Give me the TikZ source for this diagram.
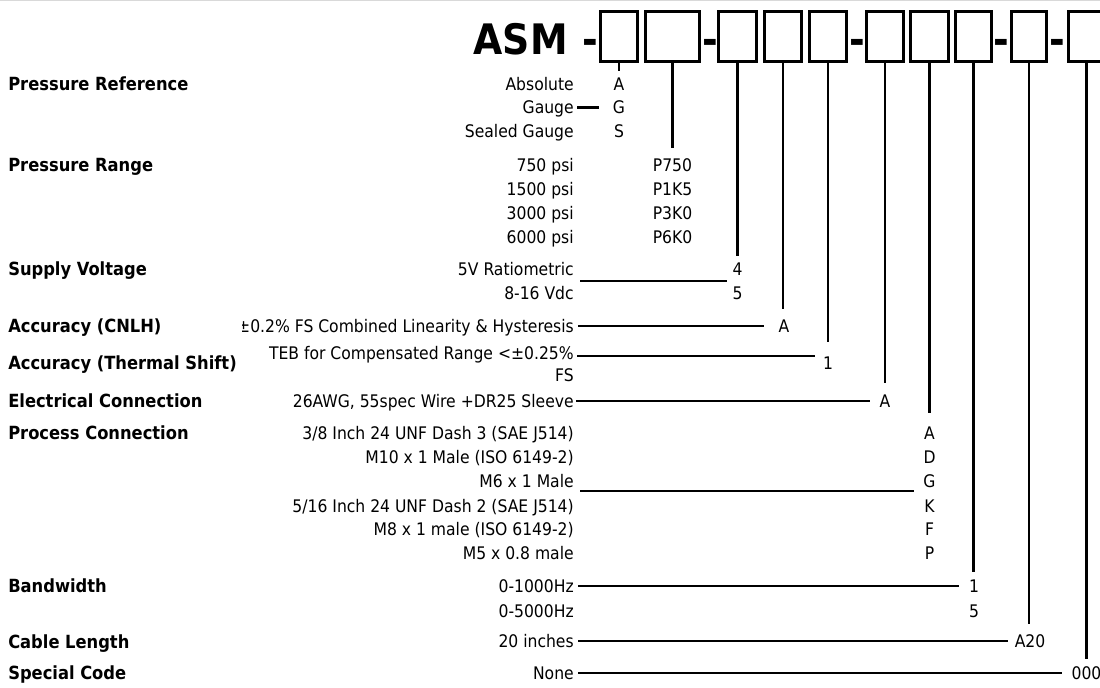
\documentclass[tikz,border=0pt]{standalone}
\usepackage{fontspec}
\setmainfont{DejaVu Sans Condensed}
\newcommand\txtsz{\fontsize{13}{22}\selectfont}
\newcommand\lblsz{\fontsize{13.6}{22}\selectfont\bfseries}
\newcommand\bigsz{\fontsize{31.5}{36}\selectfont\bfseries}
\begin{document}
\begin{tikzpicture}[x=0.75pt,y=-0.75pt,
  lbl/.style={anchor=base west, font=\lblsz, inner sep=0pt},
  opt/.style={anchor=base east, font=\txtsz, inner sep=0pt},
  code/.style={anchor=base, font=\txtsz, inner sep=0pt},
  cbox/.style={draw, line width=2pt, inner sep=0pt, minimum height=37.5pt},
  dsh/.style={anchor=base, font=\bigsz, inner sep=0pt},
  conn/.style={line width=1.6pt}]
\useasboundingbox (0,0) rectangle (1100,687);
\draw[black!15, line width=0.75pt] (0,0.5) -- (1100,0.5);

% header
\node[anchor=base east, font=\bigsz, inner sep=0pt] (asm) at (568,54) {ASM};
\node[dsh] (d0) at (590,54) {-};
\node[cbox, minimum width=27.75pt] (b1) at (619,36.5) {};
\node[cbox, minimum width=40.5pt] (b2) at (672.5,36.5) {};
\node[dsh] (d1) at (710.5,54) {-};
\node[cbox, minimum width=28.5pt] (b3) at (737.5,36.5) {};
\node[cbox, minimum width=27.75pt] (b4) at (783,36.5) {};
\node[cbox, minimum width=27.75pt] (b5) at (828,36.5) {};
\node[dsh] (d2) at (857.5,54) {-};
\node[cbox, minimum width=27.75pt] (b6) at (885,36.5) {};
\node[cbox, minimum width=28.5pt] (b7) at (929.5,36.5) {};
\node[cbox, minimum width=27pt] (b8) at (973.5,36.5) {};
\node[dsh] (d3) at (1001.5,54) {-};
\node[cbox, minimum width=26.25pt] (b9) at (1029,36.5) {};
\node[dsh] (d4) at (1057.5,54) {-};
\node[cbox, minimum width=27pt] (b10) at (1086.5,36.5) {};

% category labels
\node[lbl] (lpr) at (8,90) {Pressure Reference};
\node[lbl] (lrange) at (8,171) {Pressure Range};
\node[lbl] (lsv) at (8,275) {Supply Voltage};
\node[lbl] (lcnlh) at (8,332) {Accuracy (CNLH)};
\node[lbl] (lts) at (8,369) {Accuracy (Thermal Shift)};
\node[lbl] (lec) at (8,407) {Electrical Connection};
\node[lbl] (lpc) at (8,439) {Process Connection};
\node[lbl] (lbw) at (8,592) {Bandwidth};
\node[lbl] (lcl) at (8,648) {Cable Length};
\node[lbl] (lsc) at (8,679) {Special Code};

% options
\node[opt] (oabs) at (574,90) {Absolute};
\node[opt] (ogauge) at (574,113.5) {Gauge};
\node[opt] (osealed) at (574,137) {Sealed Gauge};
\node[opt] (o750) at (574,171) {750 psi};
\node[opt] (o1500) at (574,195) {1500 psi};
\node[opt] (o3000) at (574,219) {3000 psi};
\node[opt] (o6000) at (574,243) {6000 psi};
\node[opt] (oratio) at (574,275) {5V Ratiometric};
\node[opt] (ovdc) at (574,299) {8-16 Vdc};
\begin{scope}
\clip (242,300) rectangle (600,345);
\node[opt] (ocnlh) at (574,332) {±0.2\% FS Combined Linearity \& Hysteresis};
\end{scope}
\node[opt] (oteb) at (574,359) {TEB for Compensated Range <±0.25\%};
\node[opt] (ofs) at (574,381) {FS};
\node[opt] (oawg) at (574,407) {26AWG, 55spec Wire +DR25 Sleeve};
\node[opt] (op1) at (574,439) {3/8 Inch 24 UNF Dash 3 (SAE J514)};
\node[opt] (op2) at (574,463) {M10 x 1 Male (ISO 6149-2)};
\node[opt] (op3) at (574,487) {M6 x 1 Male};
\node[opt] (op4) at (574,512) {5/16 Inch 24 UNF Dash 2 (SAE J514)};
\node[opt] (op5) at (574,535) {M8 x 1 male (ISO 6149-2)};
\node[opt] (op6) at (574,559) {M5 x 0.8 male};
\node[opt] (obw1) at (574,592) {0-1000Hz};
\node[opt] (obw2) at (574,617) {0-5000Hz};
\node[opt] (ocl) at (574,647) {20 inches};
\node[opt] (onone) at (574,679) {None};

% codes
\node[code] (cA) at (619,90) {A};
\node[code] (cG) at (619,113.5) {G};
\node[code] (cS) at (619,137) {S};
\node[code] (cp750) at (672.5,171) {P750};
\node[code] (cp1k5) at (672.5,195) {P1K5};
\node[code] (cp3k0) at (672.5,219) {P3K0};
\node[code] (cp6k0) at (672.5,243) {P6K0};
\node[code] (c4) at (737.5,275) {4};
\node[code] (c5) at (737.5,299) {5};
\node[code] (cacc) at (784,332) {A};
\node[code] (cts) at (828,369) {1};
\node[code] (cec) at (885,407) {A};
\node[code] (cpA) at (929.5,439) {A};
\node[code] (cpD) at (929.5,463) {D};
\node[code] (cpG) at (929.5,487) {G};
\node[code] (cpK) at (929.5,512) {K};
\node[code] (cpF) at (929.5,535) {F};
\node[code] (cpP) at (929.5,559) {P};
\node[code] (cbw1) at (974,592) {1};
\node[code] (cbw5) at (974,617) {5};
\node[code] (ccl) at (1030,647) {A20};
\node[code] (csc) at (1086.5,679) {000};

% vertical connectors
\draw[conn] (b1.south) -- ([yshift=4.5pt]b1.south |- cA.north);
\draw[conn] (b2.south) -- ([yshift=7.5pt]b2.south |- cp750.north);
\draw[conn] (b3.south) -- ([yshift=4.5pt]b3.south |- c4.north);
\draw[conn] (b4.south) -- ([yshift=7.5pt]b4.south |- cacc.north);
\draw[conn] (b5.south) -- ([yshift=10.5pt]b5.south |- cts.north);
\draw[conn] (b6.south) -- ([yshift=8.25pt]b6.south |- cec.north);
\draw[conn] (b7.south) -- ([yshift=9.75pt]b7.south |- cpA.north);
\draw[conn] (b8.south) -- ([yshift=5.25pt]b8.south |- cbw1.north);
\draw[conn] (b9.south) -- ([yshift=7.5pt]b9.south |- ccl.north);
\draw[conn] (b10.south) -- ([yshift=5.25pt]b10.south |- csc.north);

% horizontal connectors
\draw[conn] ([xshift=2.25pt,yshift=4.5pt]ogauge.base east) -- ([xshift=-10.5pt,yshift=4.5pt]cG.base west);
\draw[conn] ([xshift=4.5pt,yshift=-4.5pt]oratio.base east) -- ([xshift=-3.75pt,yshift=-4.5pt]c4.base west);
\draw[conn] ([xshift=3pt,yshift=4.5pt]ocnlh.base east) -- ([xshift=-10.5pt,yshift=4.5pt]cacc.base west);
\draw[conn] ([xshift=2.25pt,yshift=2.25pt]oteb.base east) -- ([xshift=-6pt,yshift=2.25pt]oteb.base east -| cts.west);
\draw[conn] ([xshift=1.5pt,yshift=4.5pt]oawg.base east) -- ([xshift=-6.75pt,yshift=4.5pt]cec.base west);
\draw[conn] ([xshift=4.5pt,yshift=-3pt]op3.base east) -- ([xshift=-6.75pt,yshift=-3pt]cpG.base west);
\draw[conn] ([xshift=3pt,yshift=4.5pt]obw1.base east) -- ([xshift=-7.5pt,yshift=4.5pt]cbw1.base west);
\draw[conn] ([xshift=3pt,yshift=4.5pt]ocl.base east) -- ([xshift=-4.5pt,yshift=4.5pt]ccl.base west);
\draw[conn] ([xshift=3pt,yshift=4.5pt]onone.base east) -- ([xshift=-6.75pt,yshift=4.5pt]csc.base west);
\end{tikzpicture}
\end{document}
